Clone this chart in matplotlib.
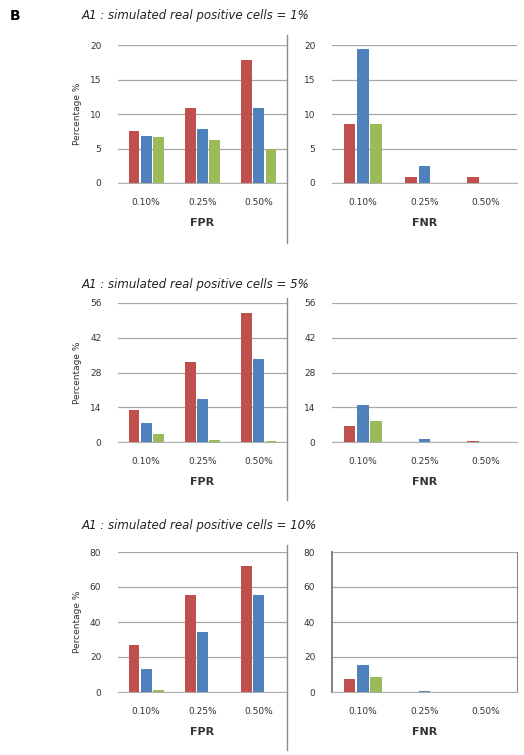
import matplotlib
matplotlib.use("Agg")
import matplotlib.pyplot as plt
from matplotlib.lines import Line2D
import numpy as np

W, H = 524, 755

CLR_RED = "#C0504D"
CLR_BLUE = "#4F81BD"
CLR_GREEN = "#9BBB59"
CLR_GRID = "#a8a8a8"
CLR_BORDER = "#8a8a8a"

categories = ["0.10%", "0.25%", "0.50%"]

titles = [
    "A1 : simulated real positive cells = 1%",
    "A1 : simulated real positive cells = 5%",
    "A1 : simulated real positive cells = 10%",
]

# row 1 (1%)
fpr1_red = [7.5, 10.9, 17.8]
fpr1_blue = [6.8, 7.8, 10.9]
fpr1_green = [6.6, 6.3, 5.0]
fnr1_red = [8.5, 0.9, 0.9]
fnr1_blue = [19.4, 2.4, 0.0]
fnr1_green = [8.5, 0.0, 0.0]
ticks1 = [0, 5, 10, 15, 20]

# row 2 (5%)
fpr2_red = [12.8, 32.4, 52.0]
fpr2_blue = [7.7, 17.5, 33.3]
fpr2_green = [3.1, 0.7, 0.3]
fnr2_red = [6.6, 0.0, 0.5]
fnr2_blue = [14.8, 1.3, 0.0]
fnr2_green = [8.3, 0.0, 0.0]
ticks2 = [0, 14, 28, 42, 56]

# row 3 (10%)
fpr3_red = [26.7, 55.6, 72.0]
fpr3_blue = [13.0, 34.3, 55.6]
fpr3_green = [1.0, 0.0, 0.0]
fnr3_red = [7.2, 0.0, 0.0]
fnr3_blue = [15.2, 0.8, 0.0]
fnr3_green = [8.8, 0.0, 0.0]
ticks3 = [0, 20, 40, 60, 80]


def rect(x0, y0, x1, y1):
    return [x0 / W, 1 - y1 / H, (x1 - x0) / W, (y1 - y0) / H]


def vline(fig, x, y0, y1, color=CLR_BORDER, lw=1.0):
    fig.add_artist(Line2D([x / W, x / W], [1 - y0 / H, 1 - y1 / H],
                          color=color, lw=lw, transform=fig.transFigure))


def draw_bars(ax, red, blue, green, ticks, xlabel, ylabel=None,
              left_spine=False, right_spine=False):
    x = np.arange(len(categories))
    w = 0.19
    off = 0.215
    ax.bar(x - off, red, w, color=CLR_RED, zorder=3)
    ax.bar(x, blue, w, color=CLR_BLUE, zorder=3)
    ax.bar(x + off, green, w, color=CLR_GREEN, zorder=3)
    ax.set_xlim(-0.5, len(categories) - 0.5)
    ax.set_ylim(ticks[0], ticks[-1])
    ax.set_yticks(ticks)
    ax.set_yticklabels([str(t) for t in ticks])
    ax.set_xticks(x)
    ax.set_xticklabels(categories)
    ax.tick_params(axis="both", length=0, labelsize=6.5, colors="#333333")
    ax.tick_params(axis="y", pad=12)
    ax.tick_params(axis="x", pad=11)
    ax.yaxis.grid(True, color=CLR_GRID, lw=0.9, zorder=0)
    ax.set_axisbelow(True)
    for side in ("top", "left", "right"):
        ax.spines[side].set_visible(False)
    ax.spines["bottom"].set_color("#b0b0b0")
    if left_spine:
        ax.spines["left"].set_visible(True)
        ax.spines["left"].set_color("#777777")
        ax.spines["left"].set_linewidth(1.3)
    if right_spine:
        ax.spines["right"].set_visible(True)
        ax.spines["right"].set_color(CLR_BORDER)
    ax.set_xlabel(xlabel, fontsize=8, fontweight="bold", color="#333333",
                  labelpad=8)
    if ylabel:
        ax.set_ylabel(ylabel, fontsize=6.5, color="#333333", labelpad=6)


def main():
    fig = plt.figure(figsize=(W / 100, H / 100), dpi=100)

    fig.text(10 / W, 1 - 16 / H, "B", fontsize=10, fontweight="bold",
             va="center", ha="left")

    rows = [
        (titles[0], 16, 45, 183, (fpr1_red, fpr1_blue, fpr1_green),
         (fnr1_red, fnr1_blue, fnr1_green), ticks1, (35, 243)),
        (titles[1], 285, 303, 442, (fpr2_red, fpr2_blue, fpr2_green),
         (fnr2_red, fnr2_blue, fnr2_green), ticks2, (298, 500)),
        (titles[2], 525, 552, 692, (fpr3_red, fpr3_blue, fpr3_green),
         (fnr3_red, fnr3_blue, fnr3_green), ticks3, (545, 750)),
    ]

    for i, (title, ty, top, bottom, fpr, fnr, ticks, border) in enumerate(rows):
        fig.text(82 / W, 1 - ty / H, title, fontsize=8.5, style="italic",
                 va="center", ha="left", color="#222222")
        ax_l = fig.add_axes(rect(118, top, 287, bottom))
        draw_bars(ax_l, *fpr, ticks, "FPR", ylabel="Percentage %")
        ax_r = fig.add_axes(rect(332, top, 517, bottom))
        last = i == 2
        draw_bars(ax_r, *fnr, ticks, "FNR", left_spine=last, right_spine=last)
        vline(fig, 287, border[0], border[1])

    fig.savefig("out.png", dpi=100, facecolor="white")
    plt.close(fig)


if __name__ == "__main__":
    main()
